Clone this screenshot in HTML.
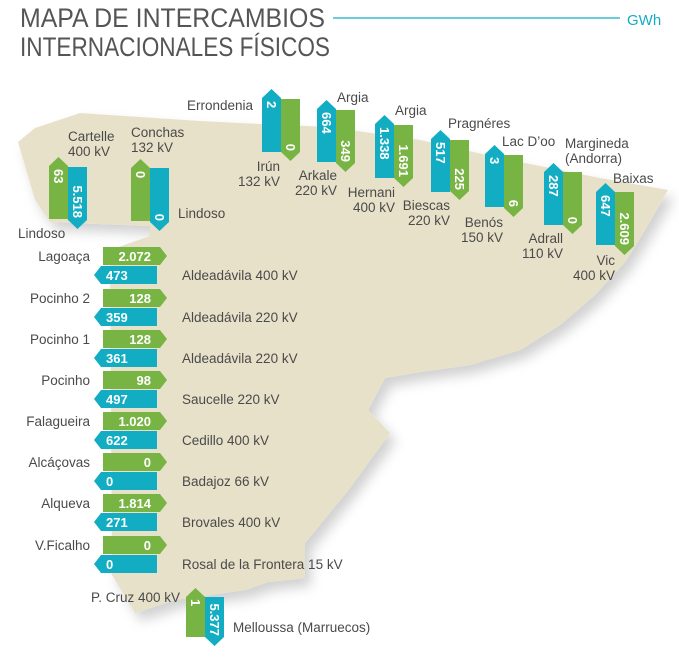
<!DOCTYPE html>
<html><head><meta charset="utf-8"><style>
html,body{margin:0;padding:0;background:#fff;}
svg{display:block;}
.l{font-family:"Liberation Sans",sans-serif;font-size:13.5px;fill:#4a4a4a;}
.v{font-family:"Liberation Sans",sans-serif;font-size:13px;font-weight:bold;fill:#fff;}
.g{fill:#78b443;}
.t{fill:#13adc3;}
</style></head><body>
<svg width="679" height="659" viewBox="0 0 679 659" xmlns="http://www.w3.org/2000/svg">
<defs><filter id="sh" x="-10%" y="-10%" width="130%" height="130%"><feDropShadow dx="6" dy="8" stdDeviation="6" flood-color="#000" flood-opacity="0.18"/></filter></defs>
<text x="20" y="27" textLength="305" lengthAdjust="spacingAndGlyphs" style="font-family:'Liberation Sans',sans-serif;font-size:27px;fill:#555">MAPA DE INTERCAMBIOS</text>
<text x="20" y="56" textLength="310" lengthAdjust="spacingAndGlyphs" style="font-family:'Liberation Sans',sans-serif;font-size:27px;fill:#555">INTERNACIONALES FÍSICOS</text>
<line x1="333" y1="18" x2="620" y2="18" stroke="#13adc3" stroke-width="1.2"/>
<text x="627" y="25" style="font-family:'Liberation Sans',sans-serif;font-size:15px;fill:#13adc3">GWh</text>

<path filter="url(#sh)" fill="#e8e1c9" d="M18,142 L35,128 L80,113 L140,117 L200,121 L260,124 L330,127 L420,140 L500,158 L600,178 L668,190 L645,230 L625,262 L595,295 L560,325 L520,350 L470,365 L420,372 L385,378 L368,410 L390,433 L350,488 L305,543 L305,578 L268,582 L245,590 L175,600 L135,613 L112,575 L110,250 L150,236 L150,226 L50,222 L35,200 Z"/>

<g>
<path class="g" d="M49,166 L58.5,157 L68,166 L68,219 L49,219 Z"/>
<path class="t" d="M68,167 L87,167 L87,220 L77.5,229 L68,220 Z"/>
<path class="g" d="M131,168 L140.5,159 L150,168 L150,221 L131,221 Z"/>
<path class="t" d="M150,168 L169,168 L169,222 L159.5,231 L150,222 Z"/>
<path class="t" d="M262,98 L271.5,89 L281,98 L281,152 L262,152 Z"/>
<path class="g" d="M281,99 L300,99 L300,152 L290.5,161 L281,152 Z"/>
<path class="t" d="M317,109 L326.5,100 L336,109 L336,162 L317,162 Z"/>
<path class="g" d="M336,110 L355,110 L355,163 L345.5,172 L336,163 Z"/>
<path class="t" d="M375,124 L384.5,115 L394,124 L394,178 L375,178 Z"/>
<path class="g" d="M394,125 L413,125 L413,178 L403.5,187 L394,178 Z"/>
<path class="t" d="M431,139 L440.5,130 L450,139 L450,192 L431,192 Z"/>
<path class="g" d="M450,140 L469,140 L469,191 L459.5,200 L450,191 Z"/>
<path class="t" d="M485,154 L494.5,145 L504,154 L504,207 L485,207 Z"/>
<path class="g" d="M504,155 L523,155 L523,208 L513.5,217 L504,208 Z"/>
<path class="t" d="M544,172 L553.5,163 L563,172 L563,225 L544,225 Z"/>
<path class="g" d="M563,172 L582,172 L582,225 L572.5,234 L563,225 Z"/>
<path class="t" d="M596,192 L605.5,183 L615,192 L615,245 L596,245 Z"/>
<path class="g" d="M615,192 L634,192 L634,246 L624.5,255 L615,246 Z"/>
<path class="g" d="M186,597 L195.5,588 L205,597 L205,637 L186,637 Z"/>
<path class="t" d="M205,597 L224,597 L224,637 L214.5,646 L205,637 Z"/>
</g>
<g class="v">
<text transform="translate(54,169) rotate(90)">63</text>
<text transform="translate(73,218) rotate(90)" text-anchor="end">5.518</text>
<text transform="translate(136,171) rotate(90)">0</text>
<text transform="translate(155,221) rotate(90)" text-anchor="end">0</text>
<text transform="translate(267,101) rotate(90)">2</text>
<text transform="translate(286,151) rotate(90)" text-anchor="end">0</text>
<text transform="translate(322,112) rotate(90)">664</text>
<text transform="translate(341,162) rotate(90)" text-anchor="end">349</text>
<text transform="translate(380,127) rotate(90)">1.338</text>
<text transform="translate(399,177) rotate(90)" text-anchor="end">1.691</text>
<text transform="translate(436,142) rotate(90)">517</text>
<text transform="translate(455,190) rotate(90)" text-anchor="end">225</text>
<text transform="translate(490,157) rotate(90)">3</text>
<text transform="translate(509,207) rotate(90)" text-anchor="end">6</text>
<text transform="translate(549,175) rotate(90)">287</text>
<text transform="translate(568,224) rotate(90)" text-anchor="end">0</text>
<text transform="translate(601,195) rotate(90)">647</text>
<text transform="translate(620,245) rotate(90)" text-anchor="end">2.609</text>
<text transform="translate(191,599) rotate(90)">1</text>
<text transform="translate(210,636) rotate(90)" text-anchor="end">5.377</text>
</g>
<g class="l">
<text x="68" y="141">Cartelle</text><text x="68" y="156">400 kV</text>
<text x="131" y="137">Conchas</text><text x="131" y="152">132 kV</text>
<text x="18" y="238">Lindoso</text>
<text x="178" y="218">Lindoso</text>
<text x="253" y="110" text-anchor="end">Errondenia</text>
<text x="280" y="171" text-anchor="end">Irún</text><text x="280" y="186" text-anchor="end">132 kV</text>
<text x="337" y="180" text-anchor="end">Arkale</text><text x="337" y="195" text-anchor="end">220 kV</text>
<text x="337" y="102">Argia</text>
<text x="395" y="115">Argia</text>
<text x="395" y="197" text-anchor="end">Hernani</text><text x="395" y="212" text-anchor="end">400 kV</text>
<text x="448" y="128">Pragnéres</text>
<text x="450" y="210" text-anchor="end">Biescas</text><text x="450" y="225" text-anchor="end">220 kV</text>
<text x="502" y="146">Lac D’oo</text>
<text x="503" y="227" text-anchor="end">Benós</text><text x="503" y="242" text-anchor="end">150 kV</text>
<text x="565" y="148">Margineda</text><text x="565" y="163">(Andorra)</text>
<text x="563" y="243" text-anchor="end">Adrall</text><text x="563" y="258" text-anchor="end">110 kV</text>
<text x="613" y="183">Baixas</text>
<text x="615" y="265" text-anchor="end">Vic</text><text x="615" y="280" text-anchor="end">400 kV</text>
<text x="180" y="602" text-anchor="end">P. Cruz 400 kV</text>
<text x="233" y="632">Melloussa (Marruecos)</text>
</g>

<g>
<g transform="translate(0,247)"><path class="g" d="M103,0 L160,0 L167,9 L160,18 L103,18 Z"/><path class="t" d="M101,19 L157,19 L157,37 L101,37 L94,28 Z"/><text class="v" x="151" y="14" text-anchor="end">2.072</text><text class="v" x="106" y="33">473</text><text class="l" x="90" y="14" text-anchor="end">Lagoaça</text><text class="l" x="182" y="33">Aldeadávila 400 kV</text></g>
<g transform="translate(0,289)"><path class="g" d="M103,0 L160,0 L167,9 L160,18 L103,18 Z"/><path class="t" d="M101,19 L157,19 L157,37 L101,37 L94,28 Z"/><text class="v" x="151" y="14" text-anchor="end">128</text><text class="v" x="106" y="33">359</text><text class="l" x="90" y="14" text-anchor="end">Pocinho 2</text><text class="l" x="182" y="33">Aldeadávila 220 kV</text></g>
<g transform="translate(0,330)"><path class="g" d="M103,0 L160,0 L167,9 L160,18 L103,18 Z"/><path class="t" d="M101,19 L157,19 L157,37 L101,37 L94,28 Z"/><text class="v" x="151" y="14" text-anchor="end">128</text><text class="v" x="106" y="33">361</text><text class="l" x="90" y="14" text-anchor="end">Pocinho 1</text><text class="l" x="182" y="33">Aldeadávila 220 kV</text></g>
<g transform="translate(0,371)"><path class="g" d="M103,0 L160,0 L167,9 L160,18 L103,18 Z"/><path class="t" d="M101,19 L157,19 L157,37 L101,37 L94,28 Z"/><text class="v" x="151" y="14" text-anchor="end">98</text><text class="v" x="106" y="33">497</text><text class="l" x="90" y="14" text-anchor="end">Pocinho</text><text class="l" x="182" y="33">Saucelle 220 kV</text></g>
<g transform="translate(0,412)"><path class="g" d="M103,0 L160,0 L167,9 L160,18 L103,18 Z"/><path class="t" d="M101,19 L157,19 L157,37 L101,37 L94,28 Z"/><text class="v" x="151" y="14" text-anchor="end">1.020</text><text class="v" x="106" y="33">622</text><text class="l" x="90" y="14" text-anchor="end">Falagueira</text><text class="l" x="182" y="33">Cedillo 400 kV</text></g>
<g transform="translate(0,453)"><path class="g" d="M103,0 L160,0 L167,9 L160,18 L103,18 Z"/><path class="t" d="M101,19 L157,19 L157,37 L101,37 L94,28 Z"/><text class="v" x="151" y="14" text-anchor="end">0</text><text class="v" x="106" y="33">0</text><text class="l" x="90" y="14" text-anchor="end">Alcáçovas</text><text class="l" x="182" y="33">Badajoz 66 kV</text></g>
<g transform="translate(0,494)"><path class="g" d="M103,0 L160,0 L167,9 L160,18 L103,18 Z"/><path class="t" d="M101,19 L157,19 L157,37 L101,37 L94,28 Z"/><text class="v" x="151" y="14" text-anchor="end">1.814</text><text class="v" x="106" y="33">271</text><text class="l" x="90" y="14" text-anchor="end">Alqueva</text><text class="l" x="182" y="33">Brovales 400 kV</text></g>
<g transform="translate(0,536)"><path class="g" d="M103,0 L160,0 L167,9 L160,18 L103,18 Z"/><path class="t" d="M101,19 L157,19 L157,37 L101,37 L94,28 Z"/><text class="v" x="151" y="14" text-anchor="end">0</text><text class="v" x="106" y="33">0</text><text class="l" x="90" y="14" text-anchor="end">V.Ficalho</text><text class="l" x="182" y="33">Rosal de la Frontera 15 kV</text></g>
</g>
</svg>
</body></html>
